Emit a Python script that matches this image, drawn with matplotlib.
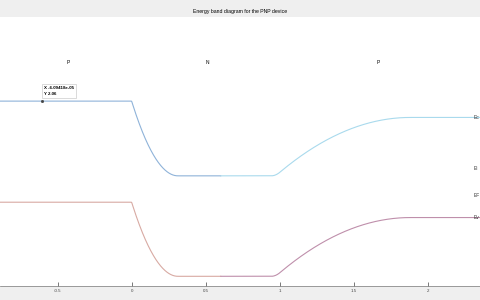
#!/usr/bin/env python3
"""Energy band diagram of a PNP device (MATLAB figure look)."""

import numpy as np
import matplotlib.pyplot as plt

plt.rcParams['font.family'] = ['Liberation Sans', 'DejaVu Sans']

# x range of the device (um) and junction / depletion edges
x_range = [-0.892, 2.351]
junctions = [0.0, 1.0]
depl_left = [-0.005, 0.94]      # depletion edge on the left of each junction
depl_right = [0.31, 1.88]       # depletion edge on the right of each junction

# band levels in each region (P, N, P), eV
ec_levels = [2.06, 1.227, 1.878]
ev_levels = [0.933, 0.107, 0.762]
ei_right = 1.311
ef_level = 1.011

region_names = ['P', 'N', 'P']
region_x = [-0.432, 0.507, 1.662]
region_y = 2.49

band_names = ['Ec', 'Ei', 'EF', 'Ev']
band_label_y = [ec_levels[2], ei_right, ef_level, ev_levels[2]]

tip_x = -0.61
tip_text = 'X -6.09418e-05\nY 2.06'

xticks = [-0.5, 0, 0.5, 1, 1.5, 2]


def profile(x, levels):
    """Piecewise-parabolic band profile (depletion approximation)."""
    y = np.full_like(x, levels[0])
    for k in range(2):
        a, j, b = depl_left[k], junctions[k], depl_right[k]
        e1, e2 = levels[k], levels[k + 1]
        d = e2 - e1
        wl, wr = j - a, b - j
        dl = d * wl / (wl + wr)
        dr = d - dl
        m = (x >= a) & (x < j)
        y[m] = e1 + dl * ((x[m] - a) / wl) ** 2
        m = (x >= j) & (x < b)
        y[m] = e2 - dr * ((b - x[m]) / wr) ** 2
        y[x >= b] = e2
    return y


x = np.linspace(x_range[0], x_range[1], 2000)
ec = profile(x, ec_levels)
ev = profile(x, ev_levels)
split = 0.6

fig = plt.figure(figsize=(4.8, 3.0), dpi=100, facecolor='#efefef')
ax = fig.add_axes([0, 0.047, 1.0, 0.897])
ax.set_facecolor('white')

left = x <= split
right = x >= split
ax.plot(x[left], ec[left], color='#8fb3d9', lw=0.8)
ax.plot(x[right], ec[right], color='#a9daed', lw=0.8)
ax.plot(x[left], ev[left], color='#d8aaa3', lw=0.8)
ax.plot(x[right], ev[right], color='#bf8fab', lw=0.8)

for name, xr in zip(region_names, region_x):
    ax.text(xr, region_y, name, fontsize=3.5, ha='center', va='center')
for name, yb in zip(band_names, band_label_y):
    ax.text(2.31, yb, name, fontsize=3.5, ha='left', va='center', color='#333333')

# data tip
ax.plot(tip_x, ec_levels[0], 's', ms=1.0, color='#444444')
ax.annotate(tip_text, (tip_x, ec_levels[0]), xytext=(1.5, 4), textcoords='offset points',
            fontsize=3.2, fontweight='bold', va='bottom', ha='left', linespacing=1.4,
            bbox=dict(boxstyle='square,pad=0.5', fc='white', ec='#cccccc', lw=0.5))

ax.set_xlim(x_range)
ax.set_ylim(0, 3)
ax.set_xticks(xticks)
ax.set_xticklabels(['-0.5', '0', '0.5', '1', '1.5', '2'])
ax.tick_params(axis='x', direction='in', length=3, width=0.5, labelsize=3.2,
               pad=2.5, colors='#444444')
ax.tick_params(axis='y', left=False, labelleft=False)
for s in ['top', 'right', 'left']:
    ax.spines[s].set_visible(False)
ax.spines['bottom'].set_color('#777777')
ax.spines['bottom'].set_linewidth(0.5)

fig.text(0.5, 0.96, 'Energy band diagram for the PNP device', fontsize=3.7,
         ha='center', va='center')

fig.savefig('out.png', dpi=100, facecolor=fig.get_facecolor())
